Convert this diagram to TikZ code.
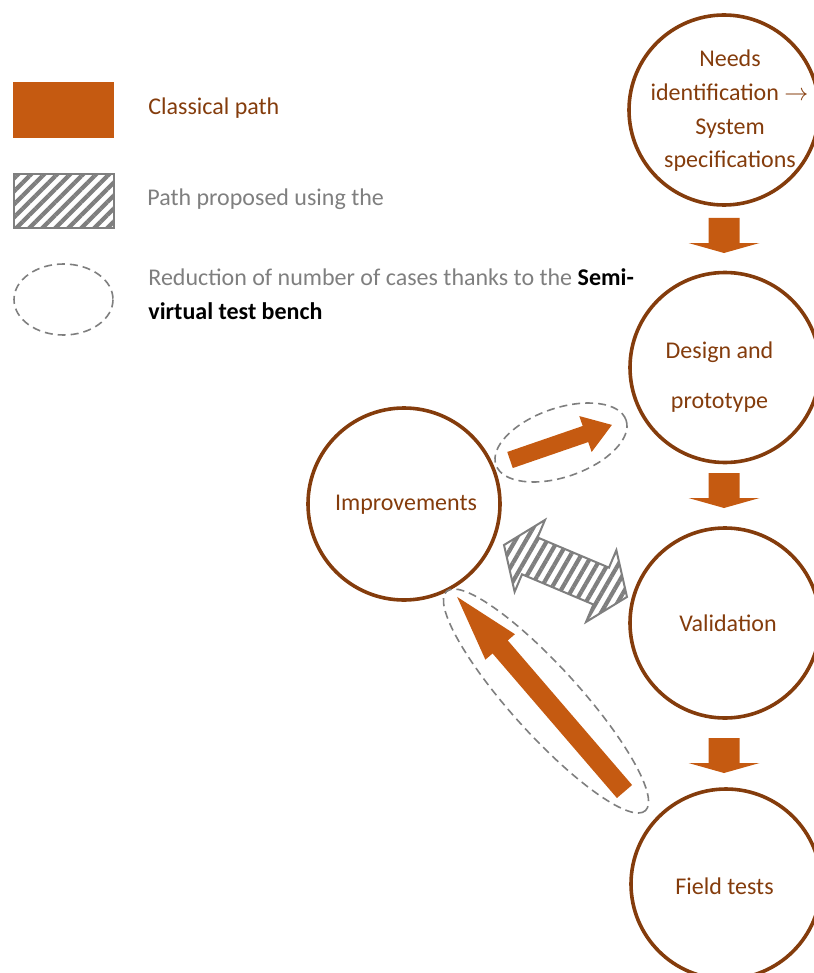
\documentclass[tikz,border=0pt]{standalone}
\usepackage{fontspec}
\setmainfont{Carlito}
\usetikzlibrary{patterns.meta}
\definecolor{orangefill}{HTML}{C55A11}
\definecolor{brownline}{HTML}{843C0C}
\definecolor{greyline}{HTML}{7F7F7F}
\begin{document}
\begin{tikzpicture}[x=0.5pt,y=-0.5pt,
  font=\fontsize{12pt}{16pt}\selectfont,
  stage/.style={circle, draw=brownline, line width=1.8pt, minimum size=95pt, inner sep=0pt},
  stagetext/.style={text=brownline, anchor=base, inner sep=0pt},
  orangeshape/.style={fill=orangefill, draw=none},
  hatchshape/.style={draw=greyline, line width=1pt, pattern={Lines[angle=#1,distance=4.6pt,line width=2.1pt]}, pattern color=greyline},
  hatchshape/.default=45,
  dashring/.style={draw=greyline, line width=0.8pt, dash pattern=on 4pt off 2.5pt},
  legendtext/.style={anchor=base west, inner sep=0pt}]
\useasboundingbox (0,0) rectangle (813,973);

% ---------- legend ----------
\fill[orangeshape] (13,82) rectangle (114,138);
\node[legendtext, text=brownline] (lgclassical) at (148,115) {Classical path};
\draw[hatchshape] (14,174) rectangle (114,228);
\node[legendtext, text=greyline] (lgproposed) at (147,205.5) {Path proposed using the};
\draw[dashring] (63.5,299.5) ellipse [x radius=49.5, y radius=35.5];
\node[legendtext, text=greyline] (lgreduction) at (148,285) {Reduction of number of cases thanks to the \textcolor{black}{\textbf{Semi-}}};
\node[legendtext, text=black, font=\fontsize{12pt}{16pt}\selectfont\bfseries] (lgbench) at (148,319) {virtual test bench};

% ---------- stages ----------
\node[stage] (needs) at (724,110) {};
\node[stage] (design) at (725,367.5) {};
\node[stage, minimum size=96pt] (improve) at (404,504) {};
\node[stage] (valid) at (725,623) {};
\node[stage] (field) at (726,884) {};

\node[stagetext] (needs1) at (730,67) {Needs};
\node[stagetext] (needs2) at (729.5,101) {identification $\rightarrow$};
\node[stagetext] (needs3) at (730,134.5) {System};
\node[stagetext] (needs4) at (730,168) {specifications};
\node[stagetext] (design1) at (719.5,358) {Design and};
\node[stagetext] (design2) at (719.5,408) {prototype};
\node[stagetext] (improvet) at (406,510) {Improvements};
\node[stagetext] (validt) at (728,631) {Validation};
\node[stagetext] (fieldt) at (724.5,894) {Field tests};

% ---------- down block arrows ----------
\foreach \yt in {218,473,738}{
  \fill[orangeshape] (708.5,\yt) -- (739.5,\yt) -- (739.5,\yt+25) -- (759.5,\yt+25)
     -- (724,\yt+35) -- (688.5,\yt+25) -- (708.5,\yt+25) -- cycle;
}

% ---------- short orange arrow (improvements -> design) ----------
\begin{scope}[shift={(510,460)}, rotate=19]
  \fill[orangeshape] (0,8.5) -- (79.8,8.5) -- (79.8,19) -- (107.8,0)
     -- (79.8,-19) -- (79.8,-8.5) -- (0,-8.5) -- cycle;
\end{scope}
\draw[dashring, rotate around={19:(561,442.5)}] (561,442.5) ellipse [x radius=68.8, y radius=34.4];

% ---------- hatched double arrow (improvements <-> validation) ----------
\begin{scope}[shift={(504,545)}, rotate=-22.9]
  \draw[hatchshape=60] (0,0) -- (28,39) -- (28,20) -- (105.5,20) -- (105.5,39) -- (133.5,0)
     -- (105.5,-39) -- (105.5,-20) -- (28,-20) -- (28,-39) -- cycle;
\end{scope}

% ---------- long orange arrow (field tests -> improvements) ----------
\begin{scope}[shift={(624.5,791.5)}, rotate=130.7]
  \fill[orangeshape] (0,10) -- (190.7,10) -- (190.7,19.5) -- (256.7,0)
     -- (190.7,-19.5) -- (190.7,-10) -- (0,-10) -- cycle;
\end{scope}
\draw[dashring, rotate around={-47.8:(546,701)}] (546,701) ellipse [x radius=148, y radius=34];
\end{tikzpicture}
\end{document}
